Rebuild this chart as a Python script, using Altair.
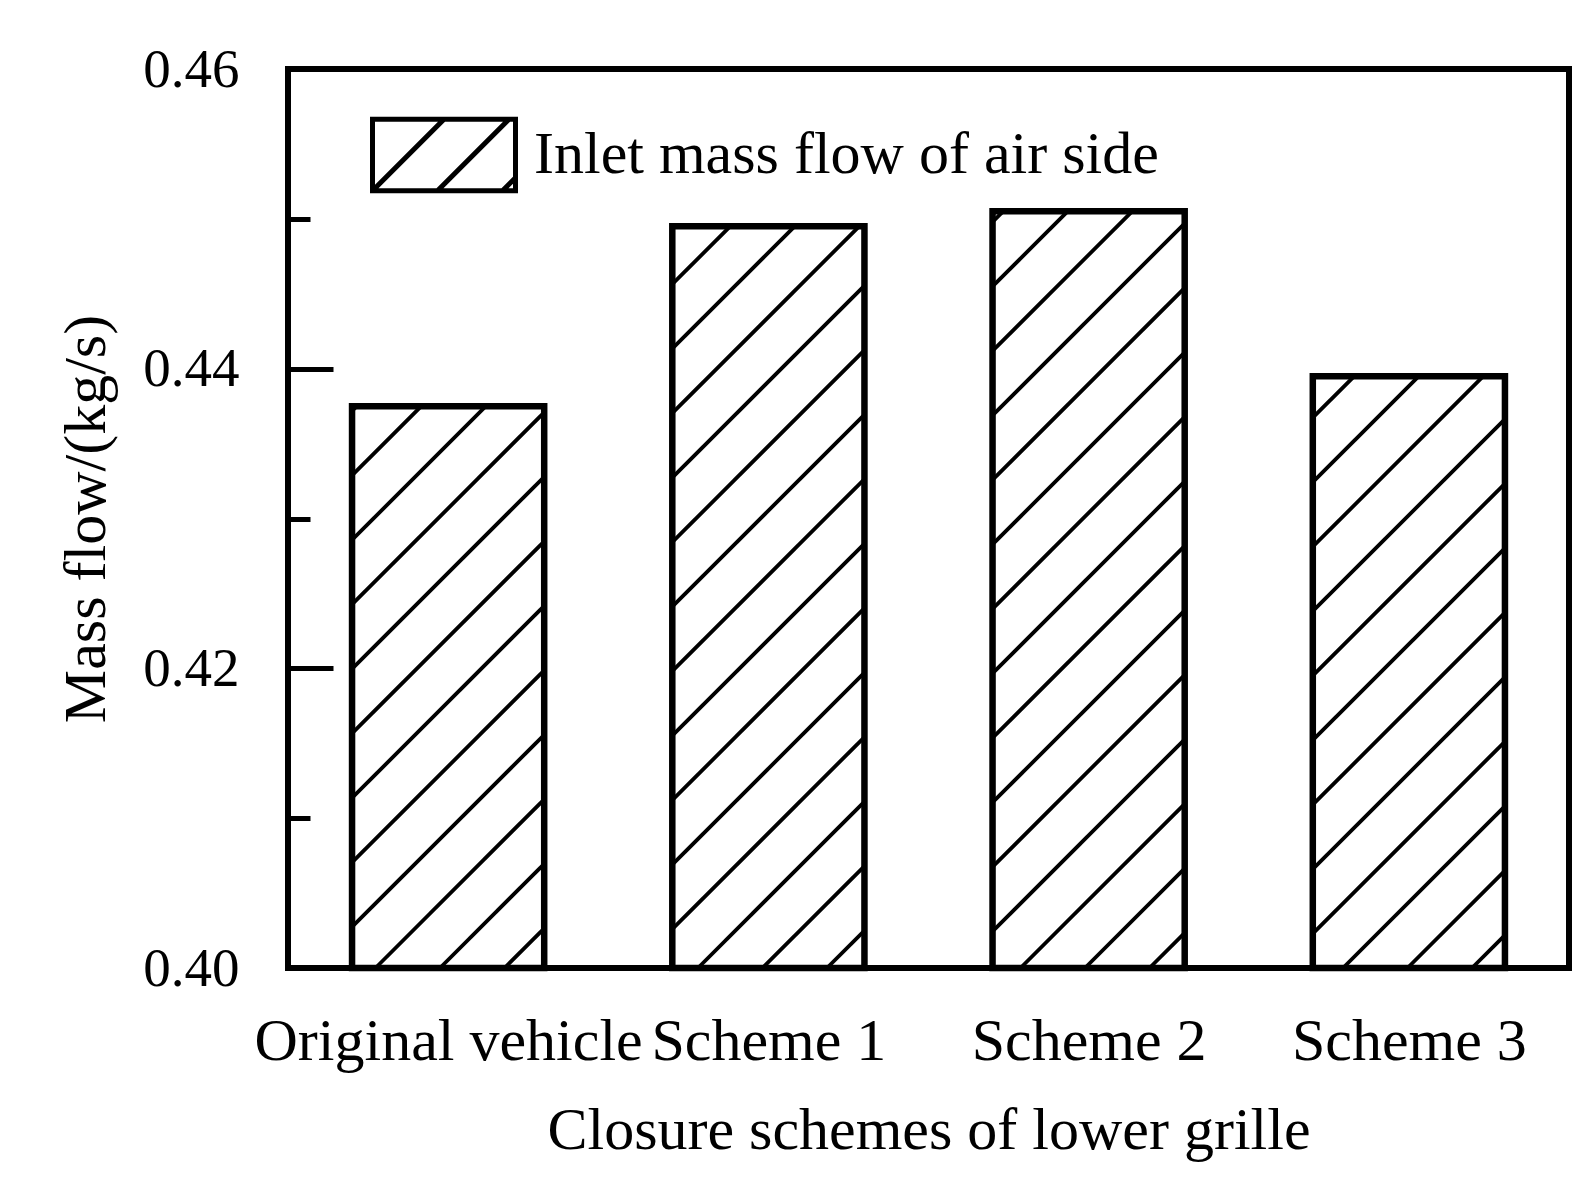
import altair as alt
import pandas as pd
import numpy as np

# ---- data ----
categories = ["Original vehicle", "Scheme 1", "Scheme 2", "Scheme 3"]
mass_flow = [0.4375, 0.4495, 0.4505, 0.4395]
y_ticks_major = [0.40, 0.42, 0.44, 0.46]
y_ticks_minor = [0.41, 0.43, 0.45]
series_name = "Inlet mass flow of air side"
x_title = "Closure schemes of lower grille"
y_title = "Mass flow/(kg/s)"

# ---- layout / style ----
FONT = "Liberation Serif"
Y_MIN, Y_MAX = 0.40, 0.46
W, H = 1281, 899
BAR_HALF = 0.3
HATCH_STEP = 64.5   # px, horizontal distance between hatch lines
HATCH_PHASE = 23.0  # px

bars = pd.DataFrame({"idx": list(range(len(categories))), "cat": categories, "value": mass_flow})
bars["x0"] = bars["idx"] - BAR_HALF
bars["x1"] = bars["idx"] + BAR_HALF
bars["base"] = Y_MIN
bars["series"] = series_name

# hatch segments (45 degree in pixel space), derived from the bar rectangles
px_x = W / len(categories)
px_y = H / (Y_MAX - Y_MIN)
segs = []
for _, r in bars.iterrows():
    u0 = (r.x0 + 0.5) * px_x
    u1 = (r.x1 + 0.5) * px_x
    vt = (r.value - Y_MIN) * px_y
    k0 = int(np.floor((u0 - vt - HATCH_PHASE) / HATCH_STEP)) - 1
    k1 = int(np.ceil((u1 - HATCH_PHASE) / HATCH_STEP)) + 1
    for k in range(k0, k1 + 1):
        c = HATCH_PHASE + k * HATCH_STEP
        lo = max(u0, c)
        hi = min(u1, c + vt)
        if hi - lo > 0.5:
            segs.append({
                "hx": lo / px_x - 0.5, "hy": Y_MIN + (lo - c) / px_y,
                "hx2": hi / px_x - 0.5, "hy2": Y_MIN + (hi - c) / px_y,
            })
hatch = pd.DataFrame(segs)

xscale = alt.Scale(domain=[-0.5, len(categories) - 0.5], nice=False, zero=False)
yscale = alt.Scale(domain=[Y_MIN, Y_MAX], nice=False, zero=False)

label_expr = "[" + ",".join("'" + c + "'" for c in categories) + "][datum.value]"

fill_layer = alt.Chart(bars).mark_rect(fill="white").encode(
    x=alt.X("x0:Q", scale=xscale, axis=alt.Axis(
        orient="bottom",
        values=list(range(len(categories))), labelExpr=label_expr,
        ticks=False, tickSize=0, domain=False, grid=False,
        labelFont=FONT, labelFontSize=60, labelColor="black",
        labelBaseline="alphabetic", labelPadding=91, labelLimit=2000,
        labelOverlap=False, labelFlush=False,
        title=x_title, titleFont=FONT, titleFontSize=60, titleColor="black",
        titleFontWeight="normal", titlePadding=30)),
    x2="x1:Q",
    y=alt.Y("value:Q", scale=yscale, axis=alt.Axis(
        orient="left", values=y_ticks_major, format=".2f",
        tickSize=45, offset=-45, tickWidth=5, tickColor="black",
        domain=False, grid=False,
        labelFont=FONT, labelFontSize=55, labelColor="black", labelPadding=49,
        title=y_title, titleFont=FONT, titleFontSize=60, titleColor="black",
        titleFontWeight="normal", titlePadding=25)),
    y2="base:Q",
)

hatch_layer = alt.Chart(hatch).mark_rule(color="black", strokeWidth=3.8).encode(
    x=alt.X("hx:Q", scale=xscale, axis=None),
    x2="hx2:Q",
    y=alt.Y("hy:Q", scale=yscale, axis=alt.Axis(
        orient="left", values=y_ticks_minor, tickSize=22, offset=-22,
        tickWidth=5, tickColor="black", labels=False, domain=False,
        grid=False, title=None)),
    y2="hy2:Q",
)

outline_layer = alt.Chart(bars).mark_rect(
    fill="transparent", stroke="black", strokeWidth=6.5
).encode(
    x=alt.X("x0:Q", scale=xscale, axis=None),
    x2="x1:Q",
    y=alt.Y("value:Q", scale=yscale, axis=None),
    y2="base:Q",
)

HATCH_SYMBOL = ("M-1,-0.5H1V0.5H-1Z M-1,0.5L0,-0.5 "
                "M-0.091,0.5L0.909,-0.5 M0.818,0.5L1,0.318")

legend_layer = alt.Chart(bars).mark_point(
    opacity=0, filled=False, stroke="black", strokeWidth=5
).encode(
    x=alt.X("idx:Q", scale=xscale, axis=None),
    y=alt.Y("value:Q", scale=yscale, axis=None),
    shape=alt.Shape("series:N", scale=alt.Scale(range=[HATCH_SYMBOL]), legend=alt.Legend(
        title=None, orient="none", legendX=82, legendY=12,
        symbolSize=20449, symbolStrokeColor="black", symbolStrokeWidth=5,
        symbolFillColor="transparent", symbolOpacity=1,
        labelFont=FONT, labelFontSize=60, labelColor="black",
        labelOffset=16, labelLimit=2000)),
)

chart = alt.layer(fill_layer, hatch_layer, outline_layer, legend_layer).resolve_axis(
    x="independent", y="independent"
).properties(
    width=W, height=H,
    padding={"left": 280, "top": 61, "right": 12, "bottom": 223},
    autosize=alt.AutoSizeParams(type="none"),
    background="white",
).configure_view(
    stroke="black", strokeWidth=6
)

chart.save("out.html", embed_options={"renderer": "svg", "actions": False})
